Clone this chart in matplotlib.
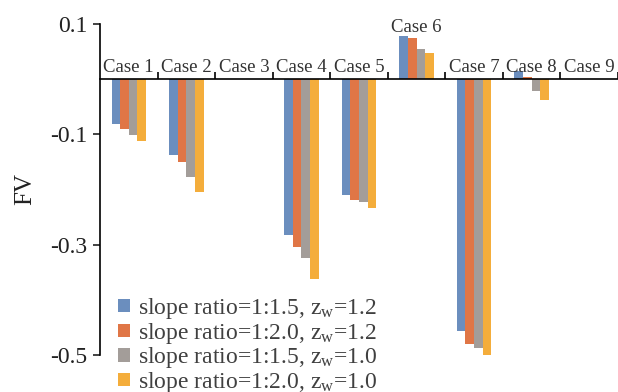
import matplotlib.pyplot as plt
import numpy as np

cases = ["Case 1", "Case 2", "Case 3", "Case 4", "Case 5",
         "Case 6", "Case 7", "Case 8", "Case 9"]

series_labels = [
    "slope ratio=1:1.5, z$_{\\mathregular{w}}$=1.2",
    "slope ratio=1:2.0, z$_{\\mathregular{w}}$=1.2",
    "slope ratio=1:1.5, z$_{\\mathregular{w}}$=1.0",
    "slope ratio=1:2.0, z$_{\\mathregular{w}}$=1.0",
]

fv_15_12 = [-0.082, -0.137, 0.0, -0.283, -0.210, 0.078, -0.457, 0.014, 0.0]
fv_20_12 = [-0.090, -0.150, 0.0, -0.305, -0.219, 0.075, -0.480, 0.004, 0.0]
fv_15_10 = [-0.101, -0.177, 0.0, -0.325, -0.223, 0.055, -0.487, -0.021, 0.0]
fv_20_10 = [-0.113, -0.204, 0.0, -0.362, -0.234, 0.047, -0.503, -0.037, 0.0]

colors = ["#6B8EBE", "#E07646", "#A39D99", "#F4AD3B"]

plt.rcParams['font.family'] = ['Liberation Serif', 'DejaVu Serif']
plt.rcParams['mathtext.fontset'] = 'custom'
plt.rcParams['mathtext.rm'] = 'Liberation Serif'
plt.rcParams['mathtext.it'] = 'Liberation Serif'

fig = plt.figure(figsize=(6.18, 3.92), dpi=100)
ax = fig.add_axes([0.1618, 0.0944, 0.8382, 0.8444])

x = np.arange(len(cases))
width = 0.15
all_series = [fv_15_12, fv_20_12, fv_15_10, fv_20_10]
for i, (vals, c, lab) in enumerate(zip(all_series, colors, series_labels)):
    ax.bar(x + (i - 1.5) * width, vals, width, color=c, label=lab)

ax.set_xlim(-0.5, 8.5)
ax.set_ylim(-0.5, 0.1)
ax.set_yticks([0.1, -0.1, -0.3, -0.5])
ax.set_yticklabels(["0.1", "-0.1", "-0.3", "-0.5"])
ax.tick_params(axis='y', direction='out', length=5, width=1.2,
               labelsize=17, pad=4, colors='#222222')

ax.spines['top'].set_visible(False)
ax.spines['right'].set_visible(False)
ax.spines['left'].set_linewidth(1.2)
ax.spines['bottom'].set_position(('data', 0))
ax.spines['bottom'].set_linewidth(1.2)
ax.set_xticks(np.arange(len(cases)) + 0.5)
ax.set_xticklabels([])
ax.tick_params(axis='x', direction='in', length=5, width=1.2)

# case names sit on the zero line, or above the bars when they rise
for xi, name in enumerate(cases):
    top = max(s[xi] for s in all_series)
    ypos = top + 0.008 if top > 0.02 else 0.0136
    ax.text(xi, ypos, name, ha='center', va='baseline',
            fontsize=13.5, color='#333333')

ax.set_ylabel("FV", fontsize=18, color='#222222', labelpad=10)

leg = ax.legend(loc='upper left', bbox_to_anchor=(0.157, 0.299),
                bbox_transform=fig.transFigure, frameon=False,
                fontsize=17, handlelength=0.5, handleheight=0.5,
                handletextpad=0.35, labelspacing=-0.015)
for t in leg.get_texts():
    t.set_color('#404040')

fig.savefig("out.png", dpi=100)
